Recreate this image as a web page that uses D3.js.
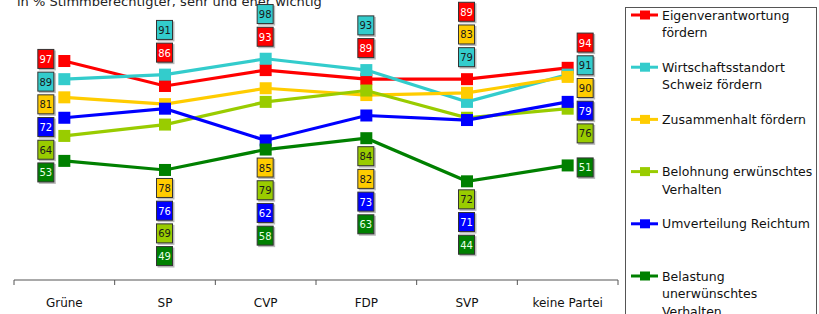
<!DOCTYPE html>
<html>
<head>
<meta charset="utf-8">
<script src="https://cdn.jsdelivr.net/npm/d3@7"></script>
<style>
  body { margin: 0; background: #fff; }
  svg { display: block; font-family: 'DejaVu Sans', sans-serif; }
</style>
</head>
<body>
<div id="chart"></div>
<script>
// parties on the x axis
const parties = ['Grüne', 'SP', 'CVP', 'FDP', 'SVP', 'keine Partei']

// one row per series, values in party order
const seriesNames = [
  ['Eigenverantwortung', 'fördern'],
  ['Wirtschaftsstandort', 'Schweiz fördern'],
  ['Zusammenhalt fördern'],
  ['Belohnung erwünschtes', 'Verhalten'],
  ['Umverteilung Reichtum'],
  ['Belastung', 'unerwünschtes', 'Verhalten']
]
const eigen      = [97, 86, 93, 89, 89, 94]
const wirtschaft = [89, 91, 98, 93, 79, 91]
const zusammen   = [81, 78, 85, 82, 83, 90]
const belohnung  = [64, 69, 79, 84, 72, 76]
const umverteil  = [72, 76, 62, 73, 71, 79]
const belastung  = [53, 49, 58, 63, 44, 51]
const seriesValues = [eigen, wirtschaft, zusammen, belohnung, umverteil, belastung]

const colors = ['#ff0000', '#33cccc', '#ffcc00', '#99cc00', '#0000ff', '#008000']
const labelText = ['#fff', '#1a1a1a', '#1a1a1a', '#1a1a1a', '#fff', '#e8ffe8']

// where the value labels go per party: left, right, or split (n above, rest below)
const labelSide = ['left', 'split', 'split', 'split', 'split', 'right']
const aboveCount = [0, 2, 2, 2, 3, 0]

const W = 819, H = 314
const svg = d3.select('#chart').append('svg')
  .attr('width', W).attr('height', H)

const x = d3.scaleBand().domain(parties).range([14, 618])
const y = d3.scaleLinear().domain([40, 100]).range([190.4, 54.2])
const cx = p => x(p) + x.bandwidth() / 2

// title, cut at the top like the original
svg.append('text')
  .attr('x', 17).attr('y', 5.5)
  .attr('font-size', '13px').attr('fill', '#222')
  .text('in % Stimmberechtigter, sehr und eher wichtig')

// x axis
const axis = svg.append('g').attr('transform', 'translate(0,280)')
axis.append('line')
  .attr('x1', 14).attr('x2', 618)
  .attr('stroke', '#555').attr('stroke-width', 1)
const ticks = parties.map(p => x(p)).concat([x.range()[1]])
axis.selectAll('line.tick').data(ticks).join('line')
  .attr('class', 'tick')
  .attr('x1', d => d).attr('x2', d => d)
  .attr('y1', 0).attr('y2', 5)
  .attr('stroke', '#555')
axis.selectAll('text').data(parties).join('text')
  .attr('x', d => cx(d)).attr('y', 27)
  .attr('text-anchor', 'middle')
  .attr('font-size', '12px').attr('fill', '#111')
  .text(d => d)

// lines and markers
const line = d3.line().x((d, i) => cx(parties[i])).y(d => y(d))
seriesValues.forEach((vals, s) => {
  svg.append('path')
    .attr('d', line(vals))
    .attr('fill', 'none')
    .attr('stroke', colors[s])
    .attr('stroke-width', 3.2)
  svg.selectAll(null).data(vals).join('rect')
    .attr('x', (d, i) => cx(parties[i]) - 6)
    .attr('y', d => y(d) - 6)
    .attr('width', 12).attr('height', 12)
    .attr('fill', colors[s])
})

// value labels
const gap = 22.7
function spread(items) {
  // push overlapping labels apart, keeping each cluster centred on its targets
  let clusters = items.map(it => ({ items: [it], sum: it.t }))
  let changed = true
  const pos = c => c.sum / c.items.length - (c.items.length - 1) * gap / 2
  while (changed) {
    changed = false
    for (let i = 1; i < clusters.length; i++) {
      const a = clusters[i - 1], b = clusters[i]
      const aEnd = pos(a) + (a.items.length - 1) * gap
      if (pos(b) - aEnd < gap) {
        a.items = a.items.concat(b.items)
        a.sum += b.sum
        clusters.splice(i, 1)
        changed = true
        break
      }
    }
  }
  clusters.forEach(c => c.items.forEach((it, k) => { it.y = pos(c) + k * gap }))
}

const labels = []
parties.forEach((p, i) => {
  const items = seriesValues.map((vals, s) => ({ s, v: vals[i], my: y(vals[i]) }))
    .sort((a, b) => b.v - a.v)
  if (labelSide[i] === 'left' || labelSide[i] === 'right') {
    const off = labelSide[i] === 'left' ? 8 : 3
    items.forEach(it => { it.t = it.my + off })
    spread(items)
    items.forEach(it => { it.x = cx(p) + (labelSide[i] === 'left' ? -18 : 18) })
  } else {
    const up = items.slice(0, aboveCount[i])
    const down = items.slice(aboveCount[i])
    const topY = d3.min(items, d => d.my)
    const botY = d3.max(items, d => d.my)
    up.forEach((it, k) => { it.y = topY - 21 - (up.length - 1 - k) * gap })
    down.forEach((it, k) => { it.y = botY + 19 + k * gap })
    items.forEach(it => { it.x = cx(p) })
  }
  items.forEach(it => labels.push(it))
})

const lab = svg.selectAll('g.lab').data(labels).join('g')
  .attr('class', 'lab')
  .attr('transform', d => `translate(${d.x},${d.y})`)
lab.append('rect')
  .attr('x', -7.5).attr('y', -9.5)
  .attr('width', 17).attr('height', 20)
  .attr('fill', '#bbb')
lab.append('rect')
  .attr('x', -8.5).attr('y', -10.5)
  .attr('width', 16).attr('height', 19)
  .attr('fill', d => colors[d.s])
  .attr('stroke', '#333').attr('stroke-width', 1)
lab.append('text')
  .attr('x', -0.5).attr('y', 3)
  .attr('text-anchor', 'middle')
  .attr('font-size', '10px')
  .attr('fill', d => labelText[d.s])
  .text(d => d.v)

// legend
const leg = svg.append('g')
leg.append('rect')
  .attr('x', 625.5).attr('y', 7.5)
  .attr('width', 191).attr('height', 320)
  .attr('fill', '#fff').attr('stroke', '#555')
seriesNames.forEach((name, s) => {
  const ly = 15 + s * 52.2
  leg.append('line')
    .attr('x1', 631).attr('x2', 658)
    .attr('y1', ly).attr('y2', ly)
    .attr('stroke', colors[s]).attr('stroke-width', 3)
  leg.append('rect')
    .attr('x', 640).attr('y', ly - 4.5)
    .attr('width', 10).attr('height', 9)
    .attr('fill', colors[s])
  name.forEach((t, k) => {
    leg.append('text')
      .attr('x', 662).attr('y', ly + 4.5 + k * 17.5)
      .attr('font-size', '12.5px').attr('fill', '#111')
      .text(t)
  })
})
</script>
</body>
</html>
